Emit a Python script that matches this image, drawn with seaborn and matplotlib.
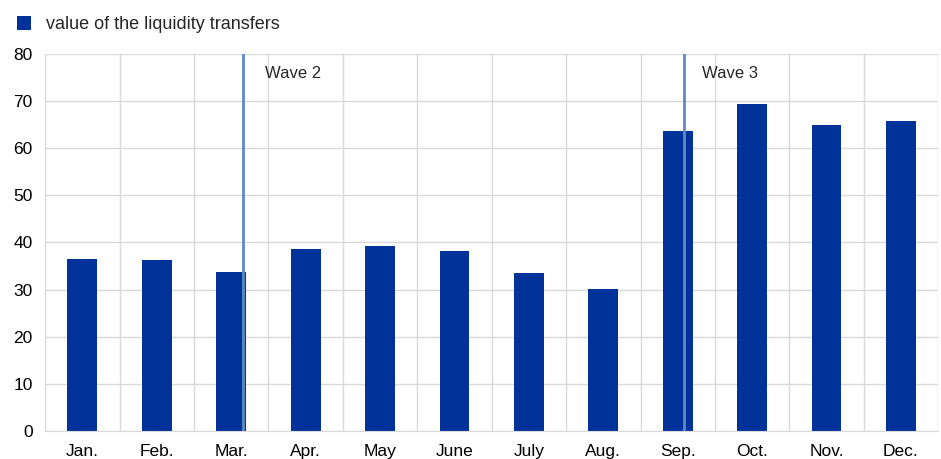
import pandas as pd
import seaborn as sns
import matplotlib.pyplot as plt
from matplotlib.patches import Patch

# данные
months = ['Jan.', 'Feb.', 'Mar.', 'Apr.', 'May', 'June', 'July', 'Aug.',
          'Sep.', 'Oct.', 'Nov.', 'Dec.']
values = [36.5, 36.3, 33.7, 38.6, 39.3, 38.2, 33.5, 30.1, 63.7, 69.4, 64.9, 65.8]
wave_pos = [2.16, 8.09]
wave_text_pos = [2.46, 8.32]
wave_labels = ['Wave 2', 'Wave 3']

df = pd.DataFrame({'Month': months, 'Value': values})

bar_color = '#003299'
line_color = '#5b8ac6'
grid_color = '#d9d9d9'

sns.set_style('white')
plt.rcParams['font.family'] = ['Liberation Sans', 'DejaVu Sans']

fig, ax = plt.subplots(figsize=(9.41, 4.59), dpi=100)
fig.subplots_adjust(left=0.048, right=0.997, top=0.883, bottom=0.061)

sns.barplot(data=df, x='Month', y='Value', color=bar_color, width=0.4,
            saturation=1, linewidth=0, ax=ax)

ax.set_xlim(-0.5, len(months) - 0.5)
ax.set_ylim(0, 80)
ax.set_yticks(range(0, 81, 10))

# сетка
ax.set_xticks([i + 0.5 for i in range(-1, len(months))], minor=True)
ax.grid(True, axis='y', color=grid_color, linewidth=1)
ax.grid(True, axis='x', which='minor', color=grid_color, linewidth=1)
ax.set_axisbelow(True)
for s in ax.spines.values():
    s.set_visible(False)
ax.spines['bottom'].set_visible(True)
ax.spines['bottom'].set_color(grid_color)

ax.tick_params(axis='both', which='both', length=0, labelsize=12.5, colors='black')
ax.tick_params(axis='x', pad=9)
ax.tick_params(axis='y', pad=9)
ax.set_xlabel('')
ax.set_ylabel('')

# волны
for x, tx, lab in zip(wave_pos, wave_text_pos, wave_labels):
    ax.axvline(x, color=line_color, linewidth=2, zorder=5)
    ax.text(tx, 75.8, lab, fontsize=12, va='center', ha='left')

handle = Patch(facecolor=bar_color, edgecolor='none')
fig.legend([handle], ['value of the liquidity transfers'], loc='upper left',
           bbox_to_anchor=(0.001, 1.0), frameon=False, fontsize=13,
           handlelength=0.75, handleheight=0.75, handletextpad=0.83)

fig.savefig('out.png', dpi=100)
